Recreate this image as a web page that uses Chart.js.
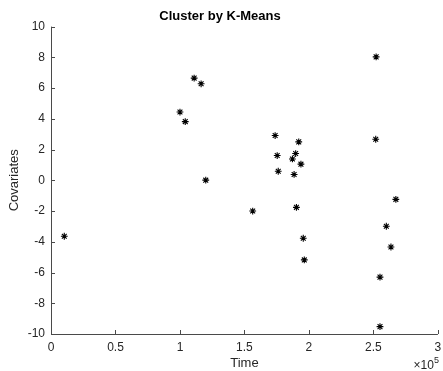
<!DOCTYPE html>
<html>
<head>
<meta charset="utf-8">
<script src="https://cdn.jsdelivr.net/npm/chart.js@4/dist/chart.umd.min.js"></script>
<style>
html,body{margin:0;padding:0;background:#fff;}
#c{display:block;}
</style>
</head>
<body>
<canvas id="c" width="443" height="371"></canvas>
<script>
// Data (x in units of 1e5)
const timeValues = [0.103, 1.000, 1.041, 1.110, 1.164, 1.200, 1.564, 1.738, 1.754, 1.762, 1.872, 1.897, 1.885, 1.921, 1.938, 1.903, 1.956, 1.964, 2.521, 2.518, 2.674, 2.600, 2.636, 2.551, 2.551];
const covariateValues = [-3.64, 4.44, 3.82, 6.65, 6.28, 0.01, -2.00, 2.91, 1.61, 0.59, 1.39, 1.74, 0.38, 2.50, 1.05, -1.76, -3.77, -5.18, 8.03, 2.67, -1.24, -2.99, -4.34, -6.30, -9.52];
const xTicks = [0, 0.5, 1, 1.5, 2, 2.5, 3];
const yTicks = [-10, -8, -6, -4, -2, 0, 2, 4, 6, 8, 10];

const points = timeValues.map((x, i) => ({x: x, y: covariateValues[i]}));
const axisColor = '#4a4a4a';
const textColor = '#262626';
const fontFam = '"Liberation Sans", Arial, Helvetica, sans-serif';

const innerTicks = {
  id: 'innerTicks',
  afterDraw(chart) {
    const ctx = chart.ctx;
    const xs = chart.scales.x, ys = chart.scales.y;
    const a = chart.chartArea;
    ctx.save();
    ctx.strokeStyle = axisColor;
    ctx.lineWidth = 1;
    ctx.beginPath();
    ctx.moveTo(a.left + 0.5, a.top);
    ctx.lineTo(a.left + 0.5, a.bottom + 0.5);
    ctx.lineTo(a.right, a.bottom + 0.5);
    xTicks.forEach(v => {
      const p = Math.round(xs.getPixelForValue(v)) + 0.5;
      ctx.moveTo(p, a.bottom);
      ctx.lineTo(p, a.bottom - 4);
    });
    yTicks.forEach(v => {
      const p = Math.round(ys.getPixelForValue(v)) + 0.5;
      ctx.moveTo(a.left, p);
      ctx.lineTo(a.left + 4, p);
    });
    ctx.stroke();
    // exponent label
    ctx.fillStyle = textColor;
    ctx.textAlign = 'right';
    ctx.textBaseline = 'alphabetic';
    ctx.font = '9px ' + fontFam;
    const rx = a.right + 1;
    ctx.fillText('5', rx, 363);
    const w5 = ctx.measureText('5').width;
    ctx.font = '12px ' + fontFam;
    ctx.fillText('\u00d710', rx - w5, 369);
    ctx.restore();
  }
};

new Chart(document.getElementById('c'), {
  type: 'scatter',
  data: {
    datasets: [{
      data: points,
      pointStyle: 'star',
      radius: 3.4,
      borderColor: '#000',
      backgroundColor: '#000',
      borderWidth: 1.1
    }]
  },
  options: {
    responsive: false,
    animation: false,
    layout: {padding: {left: 0, right: 3, top: 0, bottom: 0}},
    plugins: {
      legend: {display: false},
      tooltip: {enabled: false},
      title: {
        display: true,
        text: 'Cluster by K-Means',
        color: '#000',
        font: {family: fontFam, size: 13, weight: 'bold'},
        padding: {top: 9, bottom: 2}
      }
    },
    scales: {
      x: {
        type: 'linear',
        min: 0, max: 3,
        afterBuildTicks: s => { s.ticks = xTicks.map(v => ({value: v})); },
        afterFit: s => { s.height = 37; s.paddingLeft = 0; s.paddingRight = 0; },
        grid: {display: false, drawTicks: false},
        border: {display: false},
        ticks: {
          color: textColor,
          font: {family: fontFam, size: 12},
          padding: 6,
          maxRotation: 0,
          callback: v => String(v)
        },
        title: {
          display: true,
          text: 'Time',
          color: textColor,
          font: {family: fontFam, size: 13},
          padding: {top: 0, bottom: 0}
        }
      },
      y: {
        type: 'linear',
        min: -10, max: 10,
        afterBuildTicks: s => { s.ticks = yTicks.map(v => ({value: v})); },
        afterFit: s => { s.width = 51; s.paddingTop = 0; s.paddingBottom = 0; },
        grid: {display: false, drawTicks: false},
        border: {display: false},
        ticks: {
          color: textColor,
          font: {family: fontFam, size: 12},
          padding: 6,
          callback: v => String(v)
        },
        title: {
          display: true,
          text: 'Covariates',
          color: textColor,
          font: {family: fontFam, size: 13},
          padding: {top: 7, bottom: 0}
        }
      }
    }
  },
  plugins: [innerTicks]
});
</script>
</body>
</html>
